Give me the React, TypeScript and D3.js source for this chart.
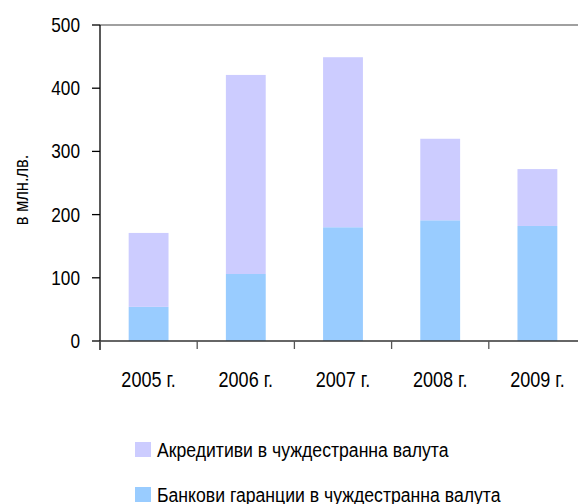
import React, { useRef, useEffect } from 'react';
import * as d3 from 'd3';

const years = ['2005 г.', '2006 г.', '2007 г.', '2008 г.', '2009 г.'];
const guarantees = [54, 106, 180, 191, 182];
const letters = [117, 315, 269, 129, 90];
const yTicks = [0, 100, 200, 300, 400, 500];
const seriesNames = ['Акредитиви в чуждестранна валута', 'Банкови гаранции в чуждестранна валута'];

const FONT = '"Liberation Sans", Arial, sans-serif';
// the original font is a narrow one, so squeeze it a bit
const SQ = 0.82;

const App: React.FC = () => {
  const ref = useRef<SVGSVGElement | null>(null);

  useEffect(() => {
    if (!ref.current) return;
    const width = 578;
    const height = 504;
    const svg = d3.select(ref.current);
    svg.attr('width', width).attr('height', height);
    svg.selectAll('*').remove();

    const left = 100;
    const right = 586;
    const top = 25;
    const bottom = 341;

    const x = d3.scaleBand<string>().domain(years).range([left, right]).paddingInner(0.59).paddingOuter(0.295);
    const y = d3.scaleLinear().domain([0, 500]).range([bottom, top]);
    const step = x.step();

    const rows = years.map((yr, i) => ({ year: yr, g: guarantees[i], l: letters[i] }));

    // stacked bars
    svg.append('g').selectAll('rect').data(rows).join('rect')
      .attr('x', d => x(d.year)!)
      .attr('width', x.bandwidth())
      .attr('y', d => y(d.g))
      .attr('height', d => y(0) - y(d.g))
      .attr('fill', '#99ccff');
    svg.append('g').selectAll('rect').data(rows).join('rect')
      .attr('x', d => x(d.year)!)
      .attr('width', x.bandwidth())
      .attr('y', d => y(d.g + d.l))
      .attr('height', d => y(d.g) - y(d.g + d.l))
      .attr('fill', '#ccccff');

    // top border
    svg.append('line')
      .attr('x1', left).attr('x2', right)
      .attr('y1', y(500)).attr('y2', y(500))
      .attr('stroke', '#808080').attr('stroke-width', 1.5);

    // y axis
    const yAxis = svg.append('g');
    yAxis.append('line')
      .attr('x1', left).attr('x2', left)
      .attr('y1', top).attr('y2', bottom + 9)
      .attr('stroke', '#000').attr('stroke-width', 1.3);
    yAxis.selectAll('line.t').data(yTicks).join('line')
      .attr('x1', left - 8).attr('x2', left)
      .attr('y1', d => y(d)).attr('y2', d => y(d))
      .attr('stroke', '#000').attr('stroke-width', 1.3);
    yAxis.selectAll('text').data(yTicks).join('text')
      .attr('transform', d => `translate(80,${y(d) + 7}) scale(${SQ},1)`)
      .attr('text-anchor', 'end')
      .attr('font-family', FONT)
      .attr('font-size', 21)
      .attr('fill', '#000')
      .text(d => d);

    // x axis
    const xAxis = svg.append('g');
    xAxis.append('line')
      .attr('x1', left).attr('x2', right)
      .attr('y1', bottom).attr('y2', bottom)
      .attr('stroke', '#333').attr('stroke-width', 1.5);
    const tickXs = years.map(yr => x(yr)! - (step - x.bandwidth()) / 2);
    xAxis.selectAll('line.t').data(tickXs).join('line')
      .attr('x1', d => d).attr('x2', d => d)
      .attr('y1', bottom).attr('y2', bottom + 8)
      .attr('stroke', '#555').attr('stroke-width', 1.3);
    xAxis.selectAll('text').data(years).join('text')
      .attr('transform', d => `translate(${x(d)! + x.bandwidth() / 2},387) scale(${SQ},1)`)
      .attr('text-anchor', 'middle')
      .attr('font-family', FONT)
      .attr('font-size', 22)
      .attr('fill', '#000')
      .text(d => d);

    // y title
    svg.append('text')
      .attr('transform', `translate(28,190) rotate(-90) scale(${SQ},1)`)
      .attr('text-anchor', 'middle')
      .attr('font-family', FONT)
      .attr('font-size', 20)
      .attr('fill', '#000')
      .text('в млн.лв.');

    // legend
    const colors = ['#ccccff', '#99ccff'];
    const legend = svg.append('g');
    seriesNames.forEach((name, i) => {
      const ly = 442 + i * 45;
      legend.append('rect')
        .attr('x', 135).attr('y', ly)
        .attr('width', 16).attr('height', 15)
        .attr('fill', colors[i]);
      legend.append('text')
        .attr('transform', `translate(157,${ly + 15}) scale(0.84,1)`)
        .attr('font-family', FONT)
        .attr('font-size', 21)
        .attr('fill', '#000')
        .text(name);
    });
  }, []);

  return <svg ref={ref} style={{ position: 'absolute', left: 0, top: 0, overflow: 'hidden' }}></svg>;
};

export default App;
